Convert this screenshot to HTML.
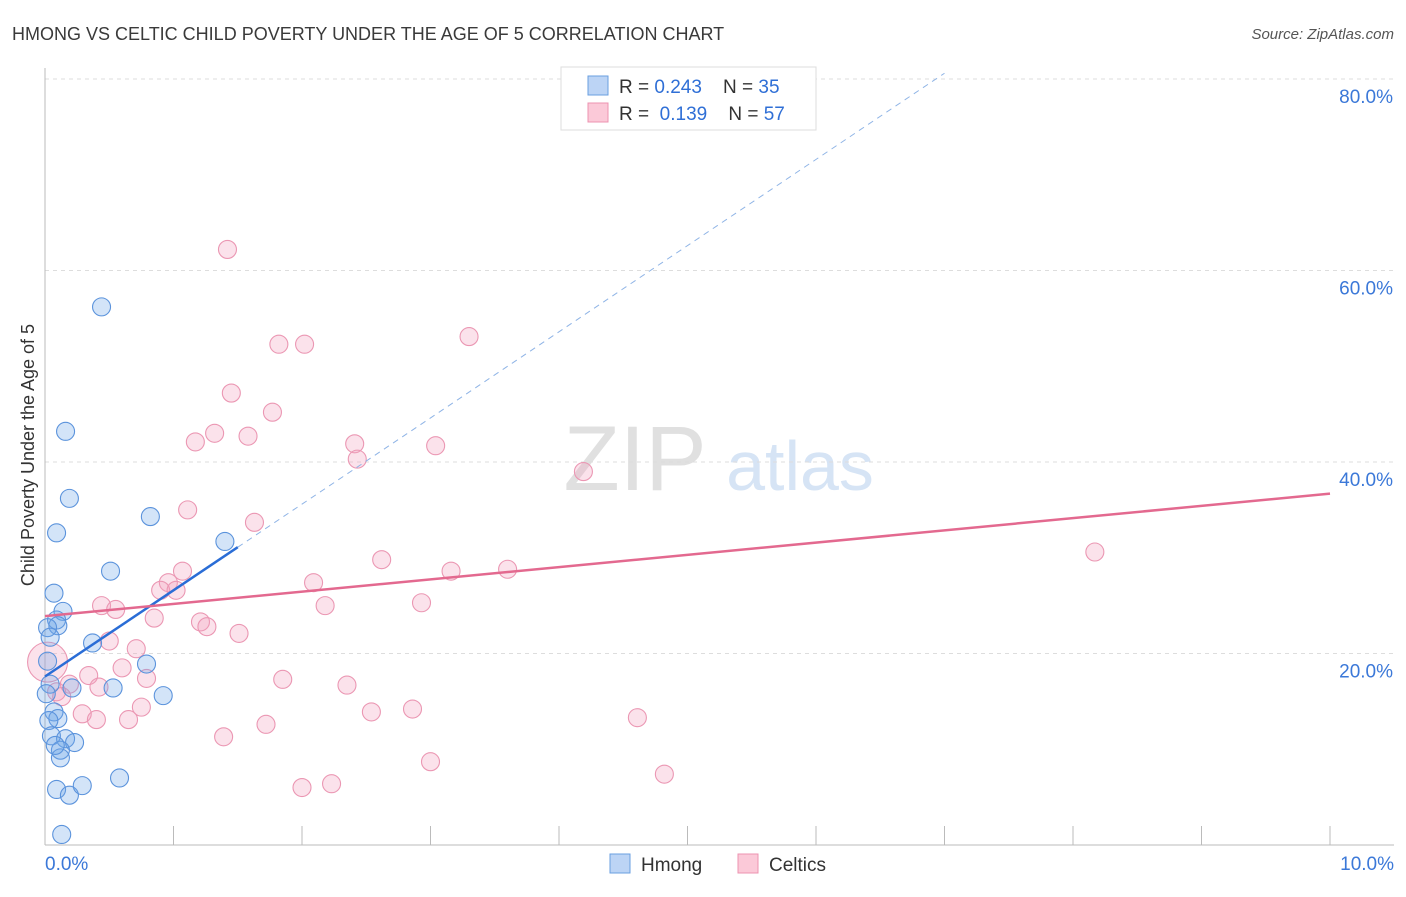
<!DOCTYPE html>
<html><head><meta charset="utf-8"><style>
body{margin:0;background:#fff;font-family:"Liberation Sans",sans-serif}
svg text{font-family:"Liberation Sans",sans-serif}
</style></head><body>
<svg id="c" width="1406" height="892">
<text x="12" y="40" font-size="18" fill="#3a3a3a">HMONG VS CELTIC CHILD POVERTY UNDER THE AGE OF 5 CORRELATION CHART</text>
<text x="1394" y="39" font-size="15" fill="#555" text-anchor="end" font-style="italic">Source: ZipAtlas.com</text>
<text x="635" y="490" font-size="92" fill="#e0e0e0" text-anchor="middle" font-family="Liberation Serif">ZIP</text>
<text x="800" y="490" font-size="70" fill="#d6e4f5" text-anchor="middle">atlas</text>
<text transform="translate(34,455) rotate(-90)" font-size="18" fill="#333" text-anchor="middle">Child Poverty Under the Age of 5</text>
<g id="grid"></g><g id="marks"></g>
<g>
<rect x="561" y="67" width="255" height="63" fill="#fff" stroke="#ddd"/>
<rect x="588" y="76" width="20" height="19" fill="#bcd4f5" stroke="#6a9fe0"/>
<rect x="588" y="103" width="20" height="19" fill="#fbc9d8" stroke="#ec93b0"/>
<text x="619" y="93" font-size="19" fill="#333" xml:space="preserve">R = <tspan fill="#2f6fd6">0.243</tspan>    N = <tspan fill="#2f6fd6">35</tspan></text>
<text x="619" y="120" font-size="19" fill="#333" xml:space="preserve">R =  <tspan fill="#2f6fd6">0.139</tspan>    N = <tspan fill="#2f6fd6">57</tspan></text>
</g>
<g>
<rect x="610" y="854" width="20" height="19" fill="#bcd4f5" stroke="#6a9fe0"/>
<text x="641" y="871" font-size="19" fill="#333">Hmong</text>
<rect x="738" y="854" width="20" height="19" fill="#fbc9d8" stroke="#ec93b0"/>
<text x="769" y="871" font-size="19" fill="#333">Celtics</text>
</g>
</svg>
<script>
const xTicks=[0,1,2,3,4,5,6,7,8,9,10];
const yTicks=[20,40,60,80];
const yTickLabels=["20.0%","40.0%","60.0%","80.0%"];
const hmongX=[0.44,0.16,0.19,0.09,0.82,1.40,0.51,0.07,0.14,0.09,0.10,0.02,0.04,0.37,0.79,0.02,0.04,0.21,0.53,0.92,0.07,0.10,0.03,0.05,0.16,0.23,0.12,0.12,0.58,0.09,0.19,0.29,0.13,0.01,0.08];
const hmongY=[56.2,43.2,36.2,32.6,34.3,31.7,28.6,26.3,24.4,23.5,22.9,22.7,21.7,21.1,18.9,19.2,16.8,16.4,16.4,15.6,13.9,13.2,13.0,11.4,11.1,10.7,9.9,9.1,7.0,5.8,5.2,6.2,1.1,15.8,10.4];
const celtX=[1.42,1.82,2.02,3.30,1.45,1.77,1.17,1.32,1.58,2.41,3.04,2.43,4.19,1.11,1.63,8.17,2.62,1.07,3.16,3.60,0.96,2.09,0.90,1.02,0.44,0.55,2.18,2.93,0.85,1.21,1.26,1.51,0.50,0.71,0.60,0.79,0.34,0.19,0.42,1.85,2.35,0.09,0.13,0.29,0.75,0.40,0.65,2.54,2.86,4.61,1.72,1.39,3.00,4.82,2.00,2.23,0.02];
const celtY=[62.2,52.3,52.3,53.1,47.2,45.2,42.1,43.0,42.7,41.9,41.7,40.3,39.0,35.0,33.7,30.6,29.8,28.6,28.6,28.8,27.4,27.4,26.6,26.6,25.0,24.6,25.0,25.3,23.7,23.3,22.8,22.1,21.3,20.5,18.5,17.4,17.7,16.8,16.5,17.3,16.7,16.0,15.5,13.7,14.4,13.1,13.1,13.9,14.2,13.3,12.6,11.3,8.7,7.4,6.0,6.4,19.1];
const hmongTrend=[17.6,9.0];
const celtTrend=[23.9,1.28];
const X=v=>45+v*128.5, Y=v=>845-v*9.575;
const NS="http://www.w3.org/2000/svg";
function mk(t,a,p){const e=document.createElementNS(NS,t);for(const k in a)e.setAttribute(k,a[k]);p.appendChild(e);return e;}
const g=document.getElementById('grid'), m=document.getElementById('marks');
yTicks.forEach((t,i)=>{
 const l=mk('line',{x1:45,x2:1394,y1:Y(t),y2:Y(t),stroke:'#ddd','stroke-dasharray':'4,4'},g);
 
 
 const tx=mk('text',{x:1393,y:Y(t)+24,'font-size':19,fill:'#3b78d8','text-anchor':'end'},g);
 tx.textContent=yTickLabels[i];
 
 
});
mk('line',{x1:45,x2:45,y1:68,y2:845,stroke:'#bbb'},g);
mk('line',{x1:45,x2:1394,y1:845,y2:845,stroke:'#bbb'},g);
xTicks.forEach(t=>{
 const l=mk('line',{x1:X(t),x2:X(t),y1:826,y2:845,stroke:'#bbb'},g);
 
 
});
const a=mk('text',{x:45,y:870,'font-size':19,fill:'#3b78d8'},g);a.textContent='0.0%';


const b=mk('text',{x:1394,y:870,'font-size':19,fill:'#3b78d8','text-anchor':'end'},g);b.textContent='10.0%';


celtX.forEach((x,i)=>{
 const c=mk('circle',{cx:X(x),cy:Y(celtY[i]),r:i==celtX.length-1?20:9,fill:'rgba(243,160,188,0.3)',stroke:'#eb97b3','stroke-width':1.1},m);
 
 
});
hmongX.forEach((x,i)=>{
 const c=mk('circle',{cx:X(x),cy:Y(hmongY[i]),r:9,fill:'rgba(110,165,232,0.3)',stroke:'#5b93dc','stroke-width':1.1},m);
 
 
});
const hy=x=>hmongTrend[0]+hmongTrend[1]*x;
const xEnd=(80.6-hmongTrend[0])/hmongTrend[1];
const d=mk('line',{x1:X(1.5),y1:Y(hy(1.5)),x2:X(xEnd),y2:Y(hy(xEnd)),stroke:'#8fb4e6','stroke-width':1,'stroke-dasharray':'6,5'},m);


const s=mk('line',{x1:X(0),y1:Y(hy(0)),x2:X(1.5),y2:Y(hy(1.5)),stroke:'#2a6dd6','stroke-width':2.5},m);


const p=mk('line',{x1:X(0),y1:Y(celtTrend[0]),x2:X(10),y2:Y(celtTrend[0]+celtTrend[1]*10),stroke:'#e3698f','stroke-width':2.5},m);


</script>
</body></html>
